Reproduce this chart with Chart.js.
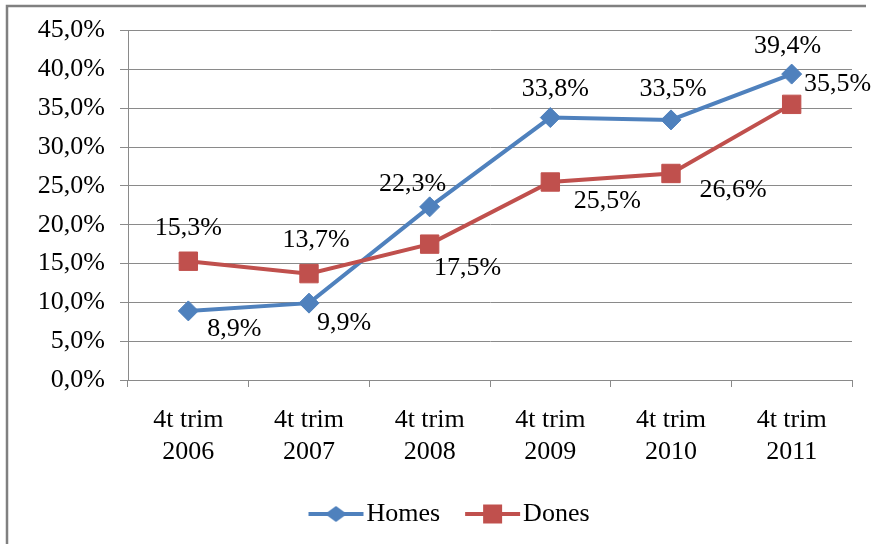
<!DOCTYPE html>
<html>
<head>
<meta charset="utf-8">
<script src="https://cdn.jsdelivr.net/npm/chart.js@4"></script>
<style>
  html, body { margin: 0; padding: 0; background: #fff; }
  #wrap { position: relative; width: 872px; height: 544px; }
</style>
</head>
<body>
<div id="wrap"><canvas id="chart" width="872" height="544"></canvas></div>
<script>
// ===== Data =====

const quarters = [
  ['4t trim', '2006'],
  ['4t trim', '2007'],
  ['4t trim', '2008'],
  ['4t trim', '2009'],
  ['4t trim', '2010'],
  ['4t trim', '2011']
];
const homes = [8.9, 9.9, 22.3, 33.8, 33.5, 39.4];
const dones = [15.3, 13.7, 17.5, 25.5, 26.6, 35.5];
const seriesNames = ['Homes', 'Dones'];
const yMin = 0, yMax = 45, yStep = 5;

// ===== Styles =====

const FONT = "'Liberation Serif', 'Times New Roman', serif";
const FONT_SIZE = 26;
const BLUE = '#4F81BD';
const RED = '#C0504D';
const GRID = '#8a8a8a';

// label offsets (px) from each point, like the original's manual placement
const homesLabelOffsets = [[46, 18], [35, 20], [-17, -23], [5, -28], [2, -31], [-4, -28]];
const donesLabelOffsets = [[0, -33], [7, -33], [38, 24], [57, 19], [62, 17], [46, -20]];

function fmtPct(v) {
  return v.toFixed(1).replace('.', ',') + '%';
}

// legend icon: line with marker, Excel style.
// canvas is wider than the legend box so the line sits close to its text
function makeLegendIcon(color, shape) {
  const c = document.createElement('canvas');
  c.width = 90; c.height = 22;
  const g = c.getContext('2d');
  g.strokeStyle = color;
  g.lineWidth = 4;
  g.beginPath(); g.moveTo(30, 11); g.lineTo(85, 11); g.stroke();
  g.fillStyle = color;
  g.beginPath();
  if (shape === 'diamond') {
    g.moveTo(46.5, 11); g.lineTo(57.5, 3); g.lineTo(68.5, 11); g.lineTo(57.5, 19);
    g.closePath();
  } else {
    g.rect(48, 1.5, 19, 19);
  }
  g.fill();
  return c;
}
const legendIcons = [makeLegendIcon(BLUE, 'diamond'), makeLegendIcon(RED, 'square')];

// ===== Plugins =====

const framePlugin = {
  id: 'frame',
  beforeDraw(chart) {
    const ctx = chart.ctx;
    ctx.save();
    ctx.fillStyle = '#fff';
    ctx.fillRect(0, 0, chart.width, chart.height);
    ctx.strokeStyle = '#808080';
    ctx.lineWidth = 2.5;
    ctx.beginPath();
    ctx.moveTo(7, chart.height);
    ctx.lineTo(7, 6);
    ctx.lineTo(866, 6);
    ctx.stroke();
    ctx.restore();
  }
};

const valueLabels = {
  id: 'valueLabels',
  afterDatasetsDraw(chart) {
    const ctx = chart.ctx;
    const offsets = [homesLabelOffsets, donesLabelOffsets];
    ctx.save();
    ctx.font = FONT_SIZE + 'px ' + FONT;
    ctx.fillStyle = '#000';
    ctx.textAlign = 'center';
    ctx.textBaseline = 'middle';
    chart.data.datasets.forEach((ds, i) => {
      const meta = chart.getDatasetMeta(i);
      meta.data.forEach((pt, j) => {
        const [dx, dy] = offsets[i][j];
        ctx.fillText(fmtPct(ds.data[j]), pt.x + dx, pt.y + dy);
      });
    });
    ctx.restore();
  }
};

// ===== Chart =====

Chart.defaults.font.family = FONT;
Chart.defaults.font.size = FONT_SIZE;
Chart.defaults.color = '#000';

new Chart(document.getElementById('chart'), {
  type: 'line',
  data: {
    labels: quarters,
    datasets: [
      {
        label: seriesNames[0],
        data: homes,
        borderColor: BLUE,
        backgroundColor: BLUE,
        borderWidth: 4,
        pointStyle: 'rectRot',
        pointRadius: 10,
        pointBorderWidth: 1,
        pointBorderColor: BLUE,
        tension: 0,
        order: 1
      },
      {
        label: seriesNames[1],
        data: dones,
        borderColor: RED,
        backgroundColor: RED,
        borderWidth: 4,
        pointStyle: 'rect',
        pointRadius: 13,
        pointBorderWidth: 1,
        pointBorderColor: RED,
        tension: 0,
        order: 0
      }
    ]
  },
  options: {
    responsive: false,
    devicePixelRatio: 1,
    animation: false,
    layout: { padding: { left: 31, right: 20, top: 29, bottom: 7 } },
    scales: {
      x: {
        offset: true,
        grid: { offset: true, drawOnChartArea: false, drawTicks: true, tickLength: 7, color: GRID },
        border: { color: GRID },
        ticks: { padding: 17, maxRotation: 0, font: { size: FONT_SIZE, lineHeight: 1.23 } },
        afterFit(scale) { scale.height = 111; }
      },
      y: {
        min: yMin,
        max: yMax,
        grid: { color: GRID, tickLength: 8 },
        border: { color: GRID },
        ticks: { stepSize: yStep, padding: 15, callback: v => fmtPct(v) },
        afterFit(scale) { scale.width = 97; }
      }
    },
    plugins: {
      legend: {
        position: 'bottom',
        labels: {
          usePointStyle: true,
          pointStyleWidth: 60,
          padding: 10,
          sort: (a, b) => a.datasetIndex - b.datasetIndex,
          generateLabels(chart) {
            const items = Chart.defaults.plugins.legend.labels.generateLabels(chart);
            items.forEach(it => { it.pointStyle = legendIcons[it.datasetIndex]; });
            return items;
          }
        }
      },
      tooltip: { enabled: false }
    }
  },
  plugins: [framePlugin, valueLabels]
});
</script>
</body>
</html>
